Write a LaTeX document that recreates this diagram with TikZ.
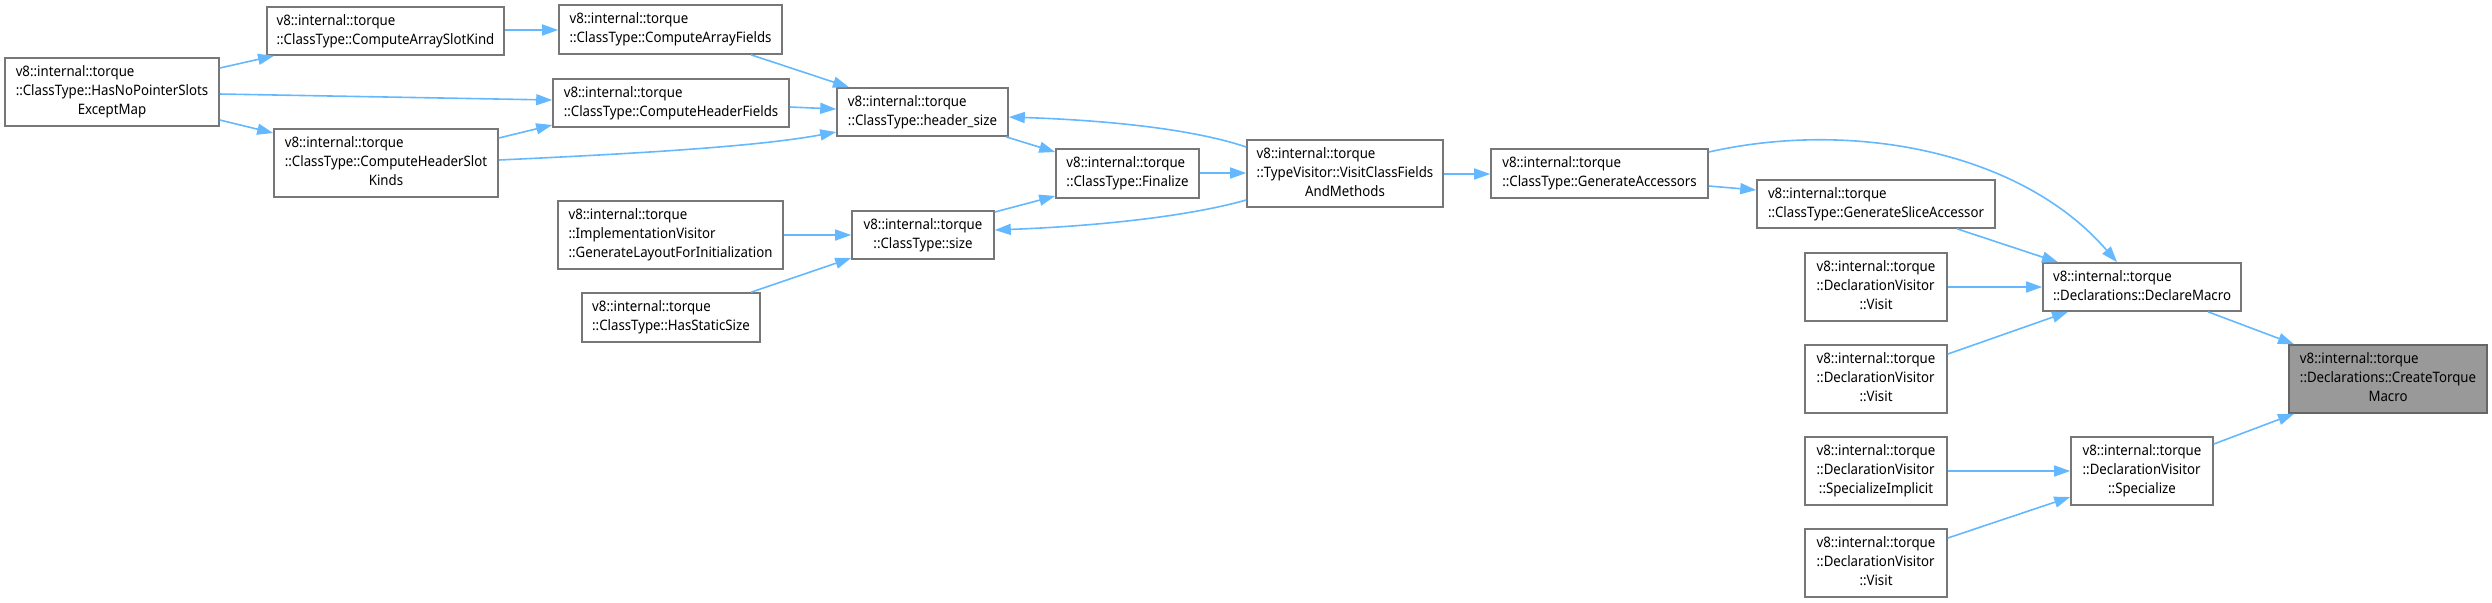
\documentclass[tikz,border=0pt]{standalone}
\usepackage{fontspec}
\setmainfont[FakeStretch=0.92]{Noto Sans}
\usetikzlibrary{arrows.meta}
\definecolor{edgeblue}{HTML}{63B8FF}
\definecolor{boxgray}{HTML}{777777}
\definecolor{hifill}{HTML}{999999}
\definecolor{hiborder}{HTML}{666666}
\newcommand{\nlab}[2]{\begin{tabular}{@{}l@{}}#1\\\multicolumn{1}{@{}c@{}}{#2}\end{tabular}}
\tikzset{
  fn/.style={draw=boxgray, fill=white, line width=0.8pt, inner sep=0pt,
    font=\fontsize{7.2}{9.5}\selectfont, text=black},
  hi/.style={fn, draw=hiborder, fill=hifill},
  bsz/.style 2 args={minimum width=#1, minimum height=#2},
  e/.style={draw=edgeblue, line width=0.8pt, -{Triangle[length=8pt,width=5.5pt]}}
}
\begin{document}
\begin{tikzpicture}[x=0.5pt,y=-0.5pt]
\useasboundingbox (0,0) rectangle (2492,602);
% nodes
\node[fn,bsz={107pt}{34pt}] (hnp) at (112,92) {\nlab{v8::internal::torque\\::ClassType::HasNoPointerSlots}{ExceptMap}};
\node[fn,bsz={118.5pt}{24pt}] (casK) at (385.5,31) {\nlab{v8::internal::torque}{::ClassType::ComputeArraySlotKind}};
\node[fn,bsz={111.5pt}{24.5pt}] (caF) at (670.5,29.5) {\nlab{v8::internal::torque}{::ClassType::ComputeArrayFields}};
\node[fn,bsz={118pt}{24pt}] (chF) at (671,103) {\nlab{v8::internal::torque}{::ClassType::ComputeHeaderFields}};
\node[fn,bsz={112pt}{34pt}] (chSK) at (386,163) {\nlab{v8::internal::torque\\::ClassType::ComputeHeaderSlot}{Kinds}};
\node[fn,bsz={112.5pt}{34pt}] (glfi) at (670.5,235) {\nlab{v8::internal::torque\\::ImplementationVisitor}{::GenerateLayoutForInitialization}};
\node[fn,bsz={89pt}{24.5pt}] (hss) at (671,317.5) {\nlab{v8::internal::torque}{::ClassType::HasStaticSize}};
\node[fn,bsz={85.5pt}{24pt}] (hsz) at (922.5,112) {\nlab{v8::internal::torque}{::ClassType::header\_size}};
\node[fn,bsz={71.5pt}{24.5pt}] (fin) at (1127.5,173.5) {\nlab{v8::internal::torque}{::ClassType::Finalize}};
\node[fn,bsz={71pt}{24pt}] (size) at (923,235) {\nlab{v8::internal::torque}{::ClassType::size}};
\node[fn,bsz={98pt}{33.5pt}] (vcf) at (1345,173.5) {\nlab{v8::internal::torque\\::TypeVisitor::VisitClassFields}{AndMethods}};
\node[fn,bsz={108.5pt}{24.5pt}] (ga) at (1599.5,173.5) {\nlab{v8::internal::torque}{::ClassType::GenerateAccessors}};
\node[fn,bsz={119pt}{24pt}] (gsa) at (1876,204) {\nlab{v8::internal::torque}{::ClassType::GenerateSliceAccessor}};
\node[fn,bsz={71pt}{34pt}] (v1) at (1876,287) {\nlab{v8::internal::torque\\::DeclarationVisitor}{::Visit}};
\node[fn,bsz={99pt}{24pt}] (dm) at (2142,287) {\nlab{v8::internal::torque}{::Declarations::DeclareMacro}};
\node[fn,bsz={71pt}{34pt}] (v2) at (1876,379) {\nlab{v8::internal::torque\\::DeclarationVisitor}{::Visit}};
\node[hi,bsz={99pt}{34pt}] (ctm) at (2388,379) {\nlab{v8::internal::torque\\::Declarations::CreateTorque}{Macro}};
\node[fn,bsz={71pt}{34pt}] (si) at (1876,471) {\nlab{v8::internal::torque\\::DeclarationVisitor}{::SpecializeImplicit}};
\node[fn,bsz={71pt}{34pt}] (sp) at (2142,471) {\nlab{v8::internal::torque\\::DeclarationVisitor}{::Specialize}};
\node[fn,bsz={71pt}{34pt}] (v3) at (1876,563) {\nlab{v8::internal::torque\\::DeclarationVisitor}{::Visit}};
% edges
\draw[e] (hnp.east |- 0,68) -- (casK.south -| 274,0);
\draw[e] (hnp.east |- 0,94) -- (chF.west |- 0,100);
\draw[e] (hnp.east |- 0,120) -- (chSK.west |- 0,133);
\draw[e] (casK.east |- 0,30) -- (caF.west |- 0,30);
\draw[e] (caF.south -| 751,0) -- (hsz.north -| 849,0);
\draw[e] (chF.east |- 0,107) -- (hsz.west |- 0,109);
\draw[e] (chSK.east |- 0,138) -- (chF.west |- 0,125);
\draw[e] (chSK.east |- 0,160) .. controls (650,153) and (760,146) .. (hsz.west |- 0,132);
\draw[e] (hsz.south -| 1006,0) -- (fin.west |- 0,152);
\draw[e] (vcf.west |- 0,147) .. controls (1190,128) and (1100,120) .. (hsz.east |- 0,117);
\draw[e] (glfi.east |- 0,235) -- (size.west |- 0,235);
\draw[e] (hss.north -| 751,0) -- (size.west |- 0,258);
\draw[e] (size.east |- 0,212) -- (fin.west |- 0,196);
\draw[e] (vcf.west |- 0,200) .. controls (1190,216) and (1100,226) .. (size.east |- 0,230);
\draw[e] (fin.east |- 0,173) -- (vcf.west |- 0,173);
\draw[e] (vcf.east |- 0,174) -- (ga.west |- 0,174);
\draw[e] (ga.east |- 0,186) -- (gsa.west |- 0,190);
\draw[e] (ga.east |- 0,152) .. controls (1850,120) and (2020,150) .. (dm.north -| 2117,0);
\draw[e] (gsa.south -| 1957,0) -- (dm.north -| 2058,0);
\draw[e] (v1.east |- 0,287) -- (dm.west |- 0,287);
\draw[e] (v2.east |- 0,354) -- (dm.south -| 2068,0);
\draw[e] (dm.south -| 2208,0) -- (ctm.north -| 2294,0);
\draw[e] (si.east |- 0,471) -- (sp.west |- 0,471);
\draw[e] (v3.east |- 0,538) -- (sp.west |- 0,497);
\draw[e] (sp.east |- 0,444) -- (ctm.south -| 2294,0);
\end{tikzpicture}
\end{document}
